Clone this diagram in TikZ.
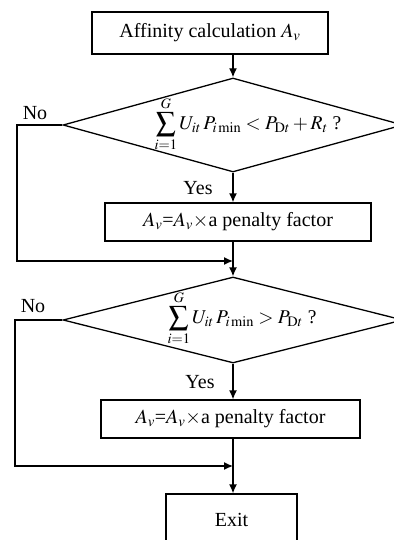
\documentclass[tikz,border=0pt]{standalone}
\usepackage{mathptmx}
\usepackage[no-math]{fontspec}
\setmainfont{Liberation Serif}
\usetikzlibrary{shapes.geometric,arrows.meta}

\begin{document}
\begin{tikzpicture}[
      x=1pt, y=-1pt,
      procbox/.style={rectangle, draw=black, line width=1.3pt, inner sep=0pt, font=\fontsize{20}{23}\selectfont},
      decision/.style={diamond, draw=black, line width=1.3pt, inner sep=0pt, minimum width=340pt},
      flowlabel/.style={font=\fontsize{20}{23}\selectfont, inner sep=0pt},
      condtext/.style={font=\fontsize{19.5}{22}\selectfont, inner sep=0pt},
      flow/.style={line width=1.3pt, -{Latex[length=9pt,width=8pt]}},
      >=stealth
    ]
    \useasboundingbox (0,0) rectangle (393,540);

    %-----------------------------
    % 1) Affinity
    %-----------------------------
    \node[procbox, minimum width=236pt, minimum height=42pt] (affinity) at (210,33)
      {Affinity calculation $A_v$};

    %-----------------------------
    % 2) First check
    %-----------------------------
    \node[decision, minimum height=94pt] (check1) at (233,125) {};
    \node[condtext] (check1-txt) at (248,124)
      {$\displaystyle\sum_{i=1}^{G} U_{it}\,P_{i\min} < P_{\mathrm{D}t} + R_t$ ?};
    \node[flowlabel] (no1) at (35,113) {No};
    \node[flowlabel] (yes1) at (198,188) {Yes};
    \node[procbox, minimum width=266pt, minimum height=38pt] (penalty1) at (238,222)
      {$A_v$=$A_v$$\times$a penalty factor};
    \coordinate (corner1) at (17,261);
    \coordinate (merge1) at (233,261);

    % arrows
    \draw[flow] (affinity.south -| check1.north) -- (check1.north);
    \draw[flow] (check1.south) -- (check1.south |- penalty1.north);
    \draw[flow] (check1.west) -| (corner1) -- (merge1);

    %-----------------------------
    % 3) Second check
    %-----------------------------
    \node[decision, minimum height=86pt] (check2) at (233,320) {};
    \node[condtext] (check2-txt) at (242,318)
      {$\displaystyle\sum_{i=1}^{G} U_{it}\,P_{i\min} > P_{\mathrm{D}t}$ ?};
    \node[flowlabel] (no2) at (33,306) {No};
    \node[flowlabel] (yes2) at (200,382) {Yes};
    \node[procbox, minimum width=259pt, minimum height=38pt] (penalty2) at (230.5,419)
      {$A_v$=$A_v$$\times$a penalty factor};
    \coordinate (corner2) at (15,466);
    \coordinate (merge2) at (233,466);
    \node[procbox, minimum width=131pt, minimum height=51pt] (exit) at (231.5,519.5) {Exit};

    % arrows
    \draw[flow] (penalty1.south -| merge1) -- (check2.north);
    \draw[flow] (check2.south) -- (check2.south |- penalty2.north);
    \draw[flow] (check2.west) -| (corner2) -- (merge2);
    \draw[flow] (penalty2.south -| merge2) -- (exit.north -| merge2);

  \end{tikzpicture}
\end{document}
